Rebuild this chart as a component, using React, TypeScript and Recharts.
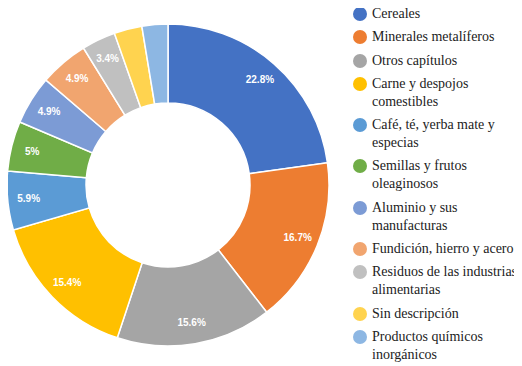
import React from "react";
import { PieChart, Pie, Cell, Legend } from "recharts";

const categories = [
  "Cereales",
  "Minerales metalíferos",
  "Otros capítulos",
  "Carne y despojos comestibles",
  "Café, té, yerba mate y especias",
  "Semillas y frutos oleaginosos",
  "Aluminio y sus manufacturas",
  "Fundición, hierro y acero",
  "Residuos de las industrias alimentarias",
  "Sin descripción",
  "Productos químicos inorgánicos",
];
const shares = [22.8, 16.7, 15.6, 15.4, 5.9, 5, 4.9, 4.9, 3.4, 2.8, 2.6];
const colors = [
  "#4472C4",
  "#ED7D31",
  "#A5A5A5",
  "#FFC000",
  "#5B9BD5",
  "#70AD47",
  "#7C9BD5",
  "#F1A56F",
  "#C0C0C0",
  "#FFD34F",
  "#8DB7E3",
];

const data = categories.map((name, i) => ({ name, value: shares[i] }));
const RAD = Math.PI / 180;
const SERIF = "Liberation Serif, Times New Roman, serif";

const renderLabel = (p: any) => {
  const { cx, cy, midAngle, outerRadius, value } = p;
  if (value < 3) return null;
  const r = outerRadius - 21;
  const x = cx + r * Math.cos(-midAngle * RAD);
  const y = cy + r * Math.sin(-midAngle * RAD);
  return (
    <text
      x={x}
      y={y}
      fill="#ffffff"
      textAnchor="middle"
      dominantBaseline="central"
      fontFamily="Liberation Sans, Arial, sans-serif"
      fontSize={10}
      fontWeight="bold"
    >
      {`${value}%`}
    </text>
  );
};

const renderLegend = () => (
  <div style={{ fontFamily: SERIF, fontSize: 14, color: "#222" }}>
    {data.map((d, i) => (
      <div key={d.name} style={{ display: "flex", alignItems: "flex-start", marginBottom: 5.3 }}>
        <span
          style={{
            width: 14,
            height: 14,
            borderRadius: 7,
            background: colors[i],
            flex: "0 0 14px",
            marginTop: 2,
            marginRight: 5,
          }}
        />
        <span style={{ lineHeight: "18px", width: 150, fontFamily: SERIF }}>{d.name}</span>
      </div>
    ))}
  </div>
);

export default function App() {
  return (
    <div style={{ fontFamily: SERIF, width: 514, height: 358 }}>
      <PieChart width={514} height={358} margin={{ top: 0, right: 0, bottom: 0, left: 0 }}>
        <Pie
          data={data}
          dataKey="value"
          nameKey="name"
          cx={160}
          cy={177}
          outerRadius={161}
          innerRadius={82}
          startAngle={90}
          endAngle={-270}
          stroke="#ffffff"
          strokeWidth={1.5}
          label={renderLabel}
          labelLine={false}
          isAnimationActive={false}
        >
          {data.map((d, i) => (
            <Cell key={d.name} fill={colors[i]} />
          ))}
        </Pie>
        <Legend
          content={renderLegend}
          layout="vertical"
          align="right"
          verticalAlign="top"
          wrapperStyle={{ position: "absolute", left: 345, top: -3, width: 170 }}
        />
      </PieChart>
    </div>
  );
}
